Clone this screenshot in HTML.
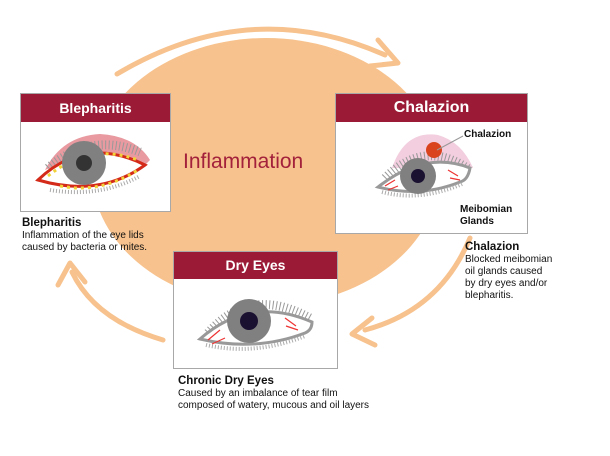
<!DOCTYPE html>
<html><head><style>
body{margin:0;width:610px;height:456px;background:#fff;overflow:hidden;position:relative;font-family:"Liberation Sans",sans-serif}
.box{position:absolute;border:1px solid #a8a8a8;box-sizing:border-box}
.hd{background:#9b1b36;color:#fff;font-weight:bold;text-align:center}
.t{position:absolute;font-size:10px;line-height:12px;color:#111}
.t b{font-size:11.5px}
</style></head><body>
<svg width="610" height="456" style="position:absolute;left:0;top:0">
<ellipse cx="266" cy="172" rx="174" ry="134" fill="#f7c28d"/>
<g fill="none" stroke="#f7c28d" stroke-width="5" stroke-linecap="round">
<path d="M117 74 Q250 -5 385 55"/>
<path d="M470 238 Q440 310 365 330"/>
<path d="M163 340 Q95 320 72 272"/>
</g>
<g fill="none" stroke="#f7c28d" stroke-width="5" stroke-linecap="round" stroke-linejoin="round">
<path d="M378 40 L398 63 L370 66"/>
<path d="M372 318 L352 334 L375 345"/>
<path d="M58 285 L70 263 L85 282"/>
</g>
<rect x="20" y="93" width="151" height="119" fill="#fff"/>
<rect x="335" y="93" width="193" height="141" fill="#fff"/>
<rect x="173" y="251" width="165" height="118" fill="#fff"/>
<!-- Blepharitis eye -->
<path d="M45 170 Q62 136 100 134 Q135 136 150 160 L140 170 Q100 146 45 170Z" fill="#e89aa0"/>
<path d="M48 168 Q90 132 140 152" fill="none" stroke="#999" stroke-width="9" stroke-dasharray="1 2.5"/>
<path d="M38 180 Q85 135 145 165 Q100 198 38 180Z" fill="#fff" stroke="#d42a1a" stroke-width="3"/>
<path d="M48 176 Q90 142 138 160" fill="none" stroke="#f2d23a" stroke-width="3" stroke-dasharray="3 4"/>
<path d="M60 186 Q100 194 138 170" fill="none" stroke="#f2d23a" stroke-width="3" stroke-dasharray="3 4"/>
<path d="M50 190 Q100 198 140 176" fill="none" stroke="#aaa" stroke-width="4" stroke-dasharray="1 2"/>
<circle cx="84" cy="163" r="22" fill="#808080"/><circle cx="84" cy="163" r="8" fill="#333"/>
<!-- Chalazion eye -->
<path d="M392 168 Q405 130 438 135 Q462 142 473 168Z" fill="#f2cede"/>
<path d="M385 178 Q425 138 470 170" fill="none" stroke="#999" stroke-width="9" stroke-dasharray="1 2.5"/>
<path d="M378 187 Q425 150 470 168 Q468 180 460 182 Q420 198 378 187Z" fill="#fff" stroke="#999" stroke-width="3"/>
<path d="M385 186 L395 180 M388 190 L398 186 M458 176 L448 170 M460 180 L450 178" stroke="#e33" stroke-width="1.2"/>
<path d="M382 192 Q420 202 462 184" fill="none" stroke="#aaa" stroke-width="4" stroke-dasharray="1 2"/>
<circle cx="418" cy="176" r="18" fill="#808080"/><circle cx="418" cy="176" r="7" fill="#1a1030"/>
<circle cx="434" cy="150" r="8" fill="#d9431e"/>
<line x1="437" y1="150" x2="463" y2="136" stroke="#999"/>
<!-- Dry eye -->
<path d="M208 333 Q250 285 310 318" fill="none" stroke="#999" stroke-width="9" stroke-dasharray="1 2.5"/>
<path d="M200 339 Q250 295 312 322 Q312 330 305 333 Q255 352 200 339Z" fill="#fff" stroke="#999" stroke-width="3"/>
<path d="M208 340 L220 330 M212 344 L225 338 M296 326 L285 318 M298 330 L286 326" stroke="#e33" stroke-width="1.2"/>
<path d="M206 345 Q255 356 305 336" fill="none" stroke="#aaa" stroke-width="4" stroke-dasharray="1 2"/>
<circle cx="249" cy="321" r="22" fill="#808080"/><circle cx="249" cy="321" r="9" fill="#1a1030"/>
</svg>
<div style="position:absolute;left:183px;top:150px;font-size:21px;color:#a3213b">Inflammation</div>

<div class="box" style="left:20px;top:93px;width:151px;height:119px">
<div class="hd" style="height:28px;line-height:28px;font-size:14px">Blepharitis</div>
</div>
<div class="t" style="left:22px;top:217px"><b>Blepharitis</b><br>Inflammation of the eye lids<br>caused by bacteria or mites.</div>

<div class="box" style="left:335px;top:93px;width:193px;height:141px">
<div class="hd" style="height:28px;line-height:28px;font-size:16px">Chalazion</div>
<div class="t" style="left:128px;top:35px;font-weight:bold">Chalazion</div>
<div class="t" style="left:124px;top:110px;font-weight:bold">Meibomian<br>Glands</div>
</div>
<div class="t" style="left:465px;top:241px"><b>Chalazion</b><br>Blocked meibomian<br>oil glands caused<br>by dry eyes and/or<br>blepharitis.</div>

<div class="box" style="left:173px;top:251px;width:165px;height:118px">
<div class="hd" style="height:27px;line-height:27px;font-size:14px">Dry Eyes</div>
</div>
<div class="t" style="left:178px;top:375px"><b>Chronic Dry Eyes</b><br>Caused by an imbalance of tear film<br>composed of watery, mucous and oil layers</div>
</body></html>
